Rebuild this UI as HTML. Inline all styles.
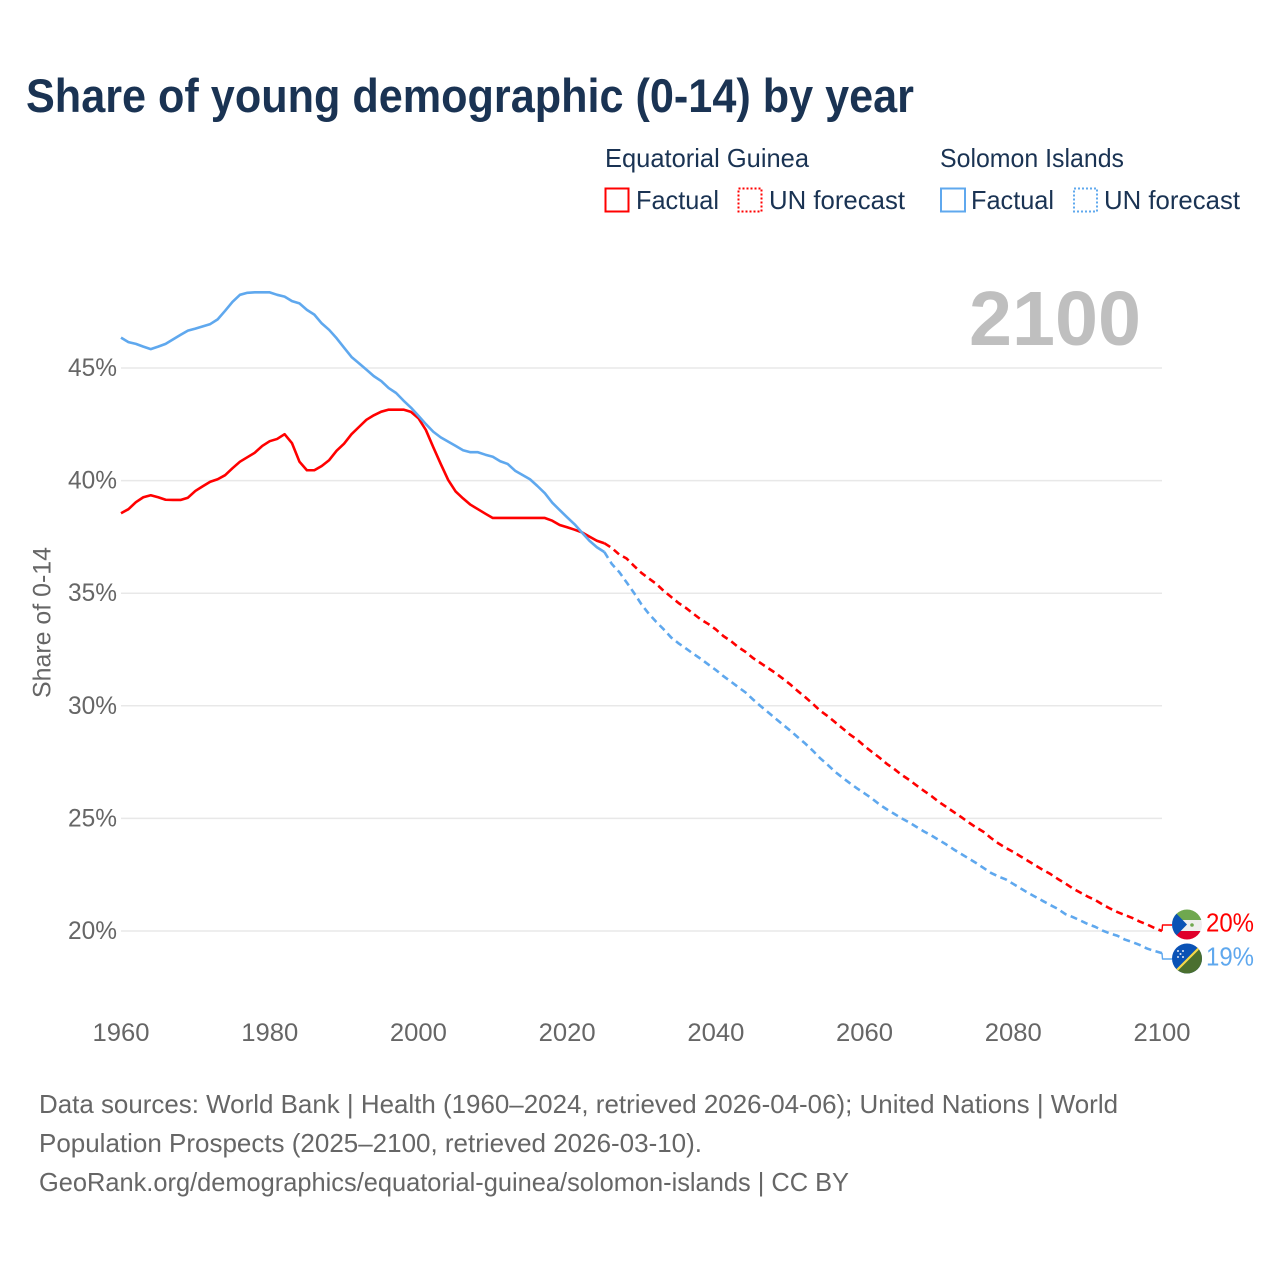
<!DOCTYPE html>
<html lang="en">
<head>
<meta charset="utf-8">
<title>Share of young demographic (0-14) by year</title>
<style>
html,body{margin:0;padding:0;background:#fff;}
svg{display:block;font-family:"Liberation Sans",sans-serif;}
</style>
</head>
<body>
<svg id="chart" xmlns="http://www.w3.org/2000/svg" width="1280" height="1280" viewBox="0 0 1280 1280">
  <rect width="1280" height="1280" fill="#fff"/>
  <text x="26" y="112" font-size="47" font-weight="700" fill="#1a3353" textLength="888" lengthAdjust="spacingAndGlyphs">Share of young demographic (0-14) by year</text>

  <g font-size="26" fill="#1a3353">
    <text x="605" y="167" textLength="204" lengthAdjust="spacingAndGlyphs">Equatorial Guinea</text>
    <text x="940" y="167" textLength="184" lengthAdjust="spacingAndGlyphs">Solomon Islands</text>
    <rect x="605.5" y="188.5" width="23" height="23" fill="none" stroke="#ff0000" stroke-width="2"/>
    <text x="636" y="209" textLength="83" lengthAdjust="spacingAndGlyphs">Factual</text>
    <rect x="738.5" y="188.5" width="23" height="23" fill="none" stroke="#ff0000" stroke-width="2" stroke-dasharray="2 2"/>
    <text x="769" y="209" textLength="136" lengthAdjust="spacingAndGlyphs">UN forecast</text>
    <rect x="941" y="188.5" width="24" height="23" fill="none" stroke="#5fa8ee" stroke-width="2"/>
    <text x="971" y="209" textLength="83" lengthAdjust="spacingAndGlyphs">Factual</text>
    <rect x="1074" y="188.5" width="23" height="23" fill="none" stroke="#5fa8ee" stroke-width="2" stroke-dasharray="2 2"/>
    <text x="1104" y="209" textLength="136" lengthAdjust="spacingAndGlyphs">UN forecast</text>
  </g>

  <g id="grid"></g>
  <g id="yticks"></g>
  <g id="xticks"></g>

  <text transform="translate(50.5,698) rotate(-90)" font-size="25" fill="#666666" textLength="151" lengthAdjust="spacingAndGlyphs">Share of 0-14</text>
  <text x="969" y="345" font-size="77" font-weight="700" fill="#bfbfbf" textLength="172" lengthAdjust="spacingAndGlyphs">2100</text>

  <g id="series"></g>

  <g>
    <clipPath id="clip-eg"><circle cx="1187" cy="924.5" r="15"/></clipPath>
    <g clip-path="url(#clip-eg)">
      <rect x="1172" y="909" width="30" height="11" fill="#6fa84f"/>
      <rect x="1172" y="920" width="30" height="11" fill="#eeeeee"/>
      <rect x="1172" y="931" width="30" height="9" fill="#e0002b"/>
      <polygon points="1172,909 1187,924.5 1172,940" fill="#0a52b5"/>
      <circle cx="1192" cy="925" r="1.8" fill="#6fa84f"/>
    </g>
  </g>
  <g>
    <clipPath id="clip-si"><circle cx="1187" cy="958.5" r="15"/></clipPath>
    <g clip-path="url(#clip-si)">
      <rect x="1172" y="943" width="30" height="31" fill="#0a52b5"/>
      <polygon points="1202,943 1202,974 1172,974" fill="#4a6f2f"/>
      <line x1="1175" y1="972" x2="1199" y2="948" stroke="#f4d84a" stroke-width="2.2"/>
      <g fill="#dfe8f5">
        <circle cx="1178" cy="951" r="1"/><circle cx="1183" cy="951" r="1"/>
        <circle cx="1180.5" cy="954" r="1"/>
        <circle cx="1178" cy="957" r="1"/><circle cx="1183" cy="957" r="1"/>
      </g>
    </g>
  </g>
  <text id="label-eg" x="1206" y="931.5" font-size="26" fill="#ff0000" textLength="48" lengthAdjust="spacingAndGlyphs">20%</text>
  <text id="label-si" x="1206" y="965.5" font-size="26" fill="#5fa8ee" textLength="48" lengthAdjust="spacingAndGlyphs">19%</text>

  <g font-size="26" fill="#666666">
    <text x="39" y="1113" textLength="1079" lengthAdjust="spacingAndGlyphs">Data sources: World Bank | Health (1960–2024, retrieved 2026-04-06); United Nations | World</text>
    <text x="39" y="1152" textLength="663" lengthAdjust="spacingAndGlyphs">Population Prospects (2025–2100, retrieved 2026-03-10).</text>
    <text x="39" y="1191" textLength="810" lengthAdjust="spacingAndGlyphs">GeoRank.org/demographics/equatorial-guinea/solomon-islands | CC BY</text>
  </g>
</svg>
<script>
var yTickValues = [20, 25, 30, 35, 40, 45];
var xTickValues = [1960, 1980, 2000, 2020, 2040, 2060, 2080, 2100];
var factualStartYear = 1960;
var forecastStartYear = 2025;

var egFactual = [38.55,38.73,39.04,39.26,39.35,39.26,39.15,39.14,39.14,39.24,
39.54,39.75,39.95,40.06,40.24,40.55,40.84,41.04,41.24,41.54,
41.75,41.85,42.06,41.66,40.84,40.46,40.46,40.65,40.91,41.33,
41.64,42.06,42.38,42.70,42.90,43.06,43.15,43.15,43.15,43.05,
42.77,42.25,41.48,40.74,40.03,39.52,39.21,38.93,38.73,38.53,
38.34,38.34,38.34,38.34,38.34,38.34,38.34,38.34,38.22,38.03,
37.93,37.82,37.70,37.51,37.33,37.22];

var siFactual = [46.35,46.15,46.07,45.95,45.84,45.95,46.07,46.27,46.47,46.66,
46.75,46.85,46.95,47.16,47.54,47.94,48.25,48.34,48.36,48.36,
48.36,48.25,48.17,47.97,47.87,47.58,47.37,46.98,46.69,46.32,
45.90,45.49,45.21,44.93,44.64,44.42,44.11,43.89,43.55,43.24,
42.88,42.51,42.17,41.92,41.73,41.54,41.35,41.26,41.26,41.15,
41.06,40.86,40.74,40.44,40.25,40.06,39.76,39.44,39.02,38.69,
38.37,38.06,37.69,37.33,37.04,36.83];

var egForecast = [37.22,37.01,36.72,36.54,36.21,35.90,35.65,35.41,35.10,34.83,
34.56,34.34,34.08,33.83,33.63,33.39,33.10,32.88,32.61,32.39,
32.12,31.90,31.68,31.46,31.21,30.95,30.66,30.39,30.10,29.79,
29.55,29.28,29.01,28.73,28.50,28.21,27.95,27.70,27.42,27.19,
26.93,26.71,26.46,26.22,25.99,25.73,25.51,25.28,25.06,24.82,
24.60,24.40,24.13,23.89,23.69,23.51,23.31,23.11,22.91,22.71,
22.53,22.31,22.11,21.89,21.71,21.53,21.38,21.18,21.00,20.84,
20.71,20.58,20.42,20.29,20.13,20.00];

var siForecast = [36.83,36.30,35.94,35.48,35.01,34.50,34.08,33.72,33.39,33.03,
32.77,32.54,32.30,32.08,31.83,31.59,31.32,31.08,30.83,30.59,
30.28,29.99,29.72,29.44,29.17,28.90,28.61,28.33,28.02,27.68,
27.39,27.08,26.82,26.57,26.33,26.11,25.88,25.62,25.40,25.20,
25.00,24.82,24.62,24.42,24.24,24.04,23.84,23.62,23.42,23.22,
23.02,22.80,22.58,22.42,22.29,22.09,21.89,21.69,21.51,21.33,
21.15,20.98,20.75,20.62,20.47,20.31,20.19,20.02,19.89,19.79,
19.62,19.51,19.38,19.22,19.11,19.02];

var NS = 'http://www.w3.org/2000/svg';
var colorEG = '#ff0000';
var colorSI = '#5fa8ee';

function xScale(year) { return 121 + (year - 1960) * (1162 - 121) / 140; }
function yScale(v) { return 931 - (v - 20) * (931 - 368) / 25; }

function linePath(values, startYear) {
  var d = '';
  for (var i = 0; i < values.length; i++) {
    d += (i ? 'L' : 'M') + xScale(startYear + i).toFixed(2) + ' ' + yScale(values[i]).toFixed(2);
  }
  return d;
}

var gridGroup = document.getElementById('grid');
var yTickGroup = document.getElementById('yticks');
yTickValues.forEach(function (v) {
  var line = document.createElementNS(NS, 'line');
  
  
  line.setAttribute('x1', xScale(1960));
  line.setAttribute('x2', xScale(2100));
  line.setAttribute('y1', yScale(v));
  line.setAttribute('y2', yScale(v));
  line.setAttribute('stroke', '#e8e8e8');
  line.setAttribute('stroke-width', '1.5');
  gridGroup.appendChild(line);

  var label = document.createElementNS(NS, 'text');
  
  
  label.setAttribute('x', 68);
  label.setAttribute('y', yScale(v) + 8);
  label.setAttribute('font-size', '25');
  label.setAttribute('fill', '#666666');
  label.setAttribute('textLength', '49');
  label.setAttribute('lengthAdjust', 'spacingAndGlyphs');
  label.textContent = v + '%';
  yTickGroup.appendChild(label);
});

var xTickGroup = document.getElementById('xticks');
xTickValues.forEach(function (year) {
  var label = document.createElementNS(NS, 'text');
  
  
  label.setAttribute('x', xScale(year) - 28.5);
  label.setAttribute('y', 1041);
  label.setAttribute('font-size', '25');
  label.setAttribute('fill', '#666666');
  label.setAttribute('textLength', '57');
  label.setAttribute('lengthAdjust', 'spacingAndGlyphs');
  label.textContent = year;
  xTickGroup.appendChild(label);
});

var seriesGroup = document.getElementById('series');

function addLine(name, d, color, width, dash) {
  var p = document.createElementNS(NS, 'path');
  
  
  p.setAttribute('d', d);
  p.setAttribute('fill', 'none');
  p.setAttribute('stroke', color);
  p.setAttribute('stroke-width', width);
  p.setAttribute('stroke-linejoin', 'round');
  if (dash) p.setAttribute('stroke-dasharray', dash);
  seriesGroup.appendChild(p);
}

addLine('line-equatorial-guinea-factual', linePath(egFactual, factualStartYear), colorEG, 2.6);
addLine('line-equatorial-guinea-forecast', linePath(egForecast, forecastStartYear), colorEG, 2.6, '7 4.5');
addLine('line-solomon-islands-factual', linePath(siFactual, factualStartYear), colorSI, 2.6);
addLine('line-solomon-islands-forecast', linePath(siForecast, forecastStartYear), colorSI, 2.6, '7 4.5');

var egEnd = egForecast[egForecast.length - 1];
var siEnd = siForecast[siForecast.length - 1];
addLine('connector-equatorial-guinea', 'M' + xScale(2100) + ' ' + yScale(egEnd) + 'L' + (xScale(2100) + 0.5) + ' 925L1172 925', colorEG, 1.4);
addLine('connector-solomon-islands', 'M' + xScale(2100) + ' ' + yScale(siEnd) + 'L' + (xScale(2100) + 0.5) + ' 959L1172 959', colorSI, 1.4);

document.getElementById('label-eg').textContent = Math.round(egEnd) + '%';
document.getElementById('label-si').textContent = Math.round(siEnd) + '%';
</script>
</body>
</html>
